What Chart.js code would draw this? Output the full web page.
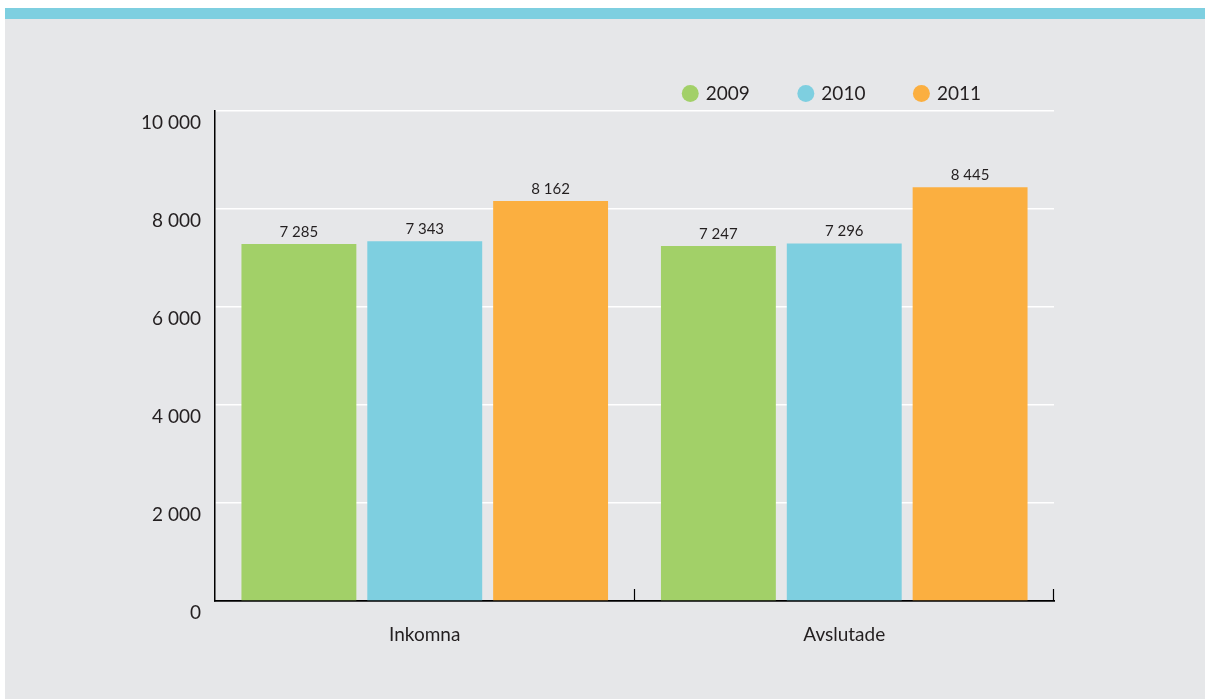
<!DOCTYPE html>
<html><head><meta charset="utf-8">
<script src="https://cdn.jsdelivr.net/npm/chart.js@4.4.0/dist/chart.umd.min.js"></script>
<style>
html,body{margin:0;padding:0;background:#fff;}
#bg{position:absolute;left:5px;top:8px;width:1200px;height:691px;background:#e6e7e9;border-top:11px solid #7ecfe0;box-sizing:border-box;}
#wrap{position:absolute;left:0;top:0;width:1205px;height:699px;}
</style></head><body>
<div id="bg"></div>
<div id="wrap"><canvas id="c"></canvas></div>
<script>
const categories = ['Inkomna', 'Avslutade'];
const seriesNames = ['2009', '2010', '2011'];
const values2009 = [7285, 7247];
const values2010 = [7343, 7296];
const values2011 = [8162, 8445];
const yTickValues = [0, 2000, 4000, 6000, 8000, 10000];
const seriesColors = ['#a2d068', '#7ecfe0', '#fbaf40'];

function fmt(v) { return String(v).replace(/\B(?=(\d{3})+(?!\d))/g, ' '); }

Chart.defaults.font.family = 'Lato';
Chart.defaults.color = '#231f20';

const valueLabels = {
  id: 'valueLabels',
  afterDatasetsDraw(chart) {
    const ctx = chart.ctx;
    ctx.save();
    ctx.font = '15px Lato';
    ctx.fillStyle = '#231f20';
    ctx.textAlign = 'center';
    ctx.textBaseline = 'alphabetic';
    chart.data.datasets.forEach((ds, i) => {
      chart.getDatasetMeta(i).data.forEach((bar, j) => {
        ctx.fillText(fmt(ds.data[j]), bar.x, bar.y - 7);
      });
    });
    ctx.restore();
  }
};

const catTicks = {
  id: 'catTicks',
  afterDraw(chart) {
    const xs = chart.scales.x, ctx = chart.ctx;
    const step = (xs.right - xs.left) / categories.length;
    ctx.save();
    ctx.strokeStyle = '#000';
    ctx.lineWidth = 1.2;
    for (let i = 1; i <= categories.length; i++) {
      const px = Math.round(xs.left + step * i) - 0.5;
      ctx.beginPath();
      ctx.moveTo(px, xs.top);
      ctx.lineTo(px, xs.top - 12);
      ctx.stroke();
    }
    ctx.restore();
  }
};

const legendShift = {
  id: 'legendShift',
  afterLayout(chart) {
    chart.legend.left -= 23;
    chart.legend.right -= 23;
  }
};

const seriesData = [values2009, values2010, values2011];

new Chart(document.getElementById('c'), {
  type: 'bar',
  data: {
    labels: categories,
    datasets: seriesNames.map((n, i) => ({
      label: n,
      data: seriesData[i],
      backgroundColor: seriesColors[i],
      borderWidth: 0,
      categoryPercentage: 0.9,
      barPercentage: 0.913
    }))
  },
  options: {
    responsive: true,
    maintainAspectRatio: false,
    animation: false,
    layout: { padding: { top: 34, left: 135, right: 151, bottom: 38 } },
    plugins: {
      tooltip: { enabled: false },
      legend: {
        position: 'top',
        align: 'end',
        maxHeight: 77,
        labels: {
          usePointStyle: true,
          pointStyle: 'circle',
          boxWidth: 12,
          boxHeight: 12,
          padding: 50,
          color: '#231f20',
          font: { size: 19 }
        }
      }
    },
    scales: {
      x: {
        grid: { display: false },
        border: { display: true, color: '#000', width: 1.8 },
        ticks: { font: { size: 19 }, padding: 14, color: '#231f20' },
        afterFit(s) { s.height = 60; }
      },
      y: {
        min: 0,
        max: 10000,
        afterBuildTicks(s) { s.ticks = yTickValues.map(v => ({ value: v })); },
        grid: {
          color: c => (c.tick && c.tick.value === 0) ? 'rgba(0,0,0,0)' : '#ffffff',
          lineWidth: 1.5,
          drawTicks: false
        },
        border: { display: true, color: '#000', width: 1.5 },
        ticks: {
          font: { size: 19 },
          padding: 14,
          labelOffset: 12,
          color: '#231f20',
          callback: v => fmt(v)
        },
        afterFit(s) { s.width = 80; }
      }
    }
  },
  plugins: [valueLabels, catTicks, legendShift]
});
</script>
</body></html>
